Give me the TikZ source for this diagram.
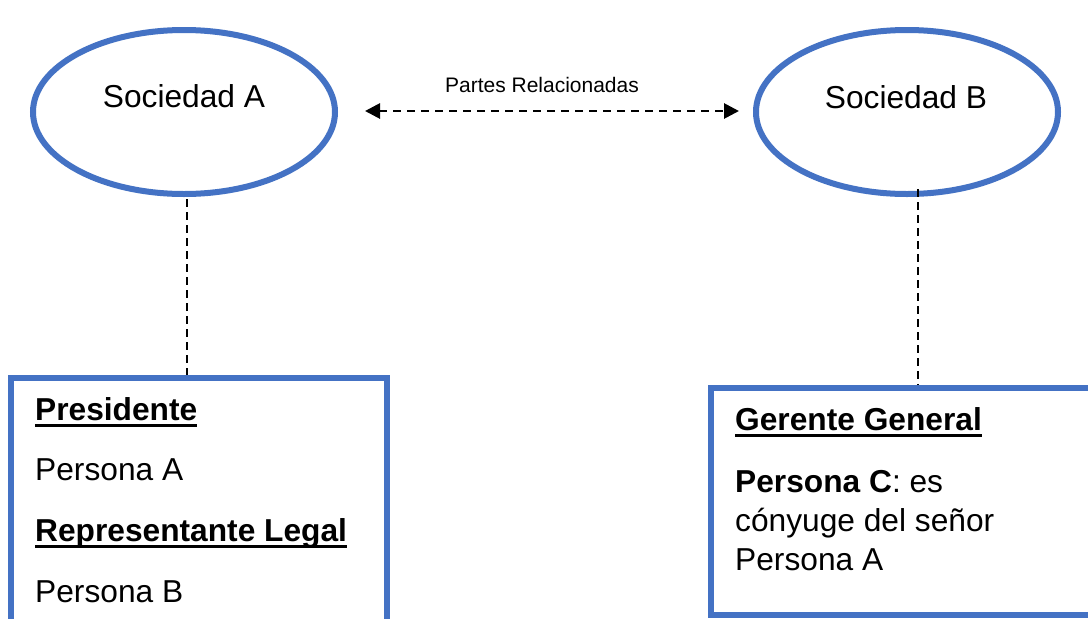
\documentclass[tikz,border=0pt]{standalone}
\usepackage{fontspec}
\setmainfont{Liberation Sans}
\usetikzlibrary{shapes.geometric,arrows.meta}
\definecolor{frameblue}{HTML}{4472C4}
% bold heading with a thick rule a little under the baseline
\newcommand\headul[1]{\sbox0{\bfseries #1}\rlap{\rule[-7pt]{\wd0}{3pt}}\usebox0}
\begin{document}
\begin{tikzpicture}[x=1pt,y=-1pt,
  company/.style={draw=frameblue,line width=6pt,ellipse,minimum width=302pt,minimum height=164pt,inner sep=0pt},
  rolebox/.style={draw=frameblue,line width=6pt,rectangle,inner sep=0pt},
  bigtext/.style={font=\fontsize{31.7}{38}\selectfont,inner sep=0pt},
  linetext/.style={bigtext,anchor=base west},
  link/.style={line width=2pt,dash pattern=on 8pt off 5pt},
  rel/.style={line width=2.8pt,dash pattern=on 8pt off 6pt,{Triangle[length=15pt,width=15pt]}-{Triangle[length=15pt,width=15pt]}}]
\clip (0,0) rectangle (1088,619);
\fill[white] (0,0) rectangle (1088,619);

% companies
\node[company] (sa) at (184,112) {};
\node[company] (sb) at (907,112) {};
\node[bigtext,anchor=base] (sat) at (184,107) {Sociedad A};
\node[bigtext,anchor=base] (sbt) at (906,108) {Sociedad B};

% relation between the two companies
\node[font=\fontsize{21}{25}\selectfont,inner sep=0pt,anchor=base] (rl) at (542,92) {Partes Relacionadas};
\draw[rel] ([xshift=27pt,yshift=1pt]sa.east) -- ([xshift=-14pt,yshift=1pt]sb.west);

% officer boxes
\node[rolebox,minimum width=376pt,minimum height=282pt] (pa) at (199,519) {};
\node[rolebox,minimum width=409pt,minimum height=227pt] (pb) at (915.5,501.5) {};

% connectors from each company to its officers
\draw[link] ([xshift=3pt,yshift=-2pt]sa.south) -- ([xshift=3pt]sa.south |- pa.north);
\draw[link] ([xshift=11pt,yshift=8pt]sb.south) -- ([xshift=11pt]sb.south |- pb.north);

% officers of Sociedad A
\node[linetext] (a1) at (35,420) {\headul{Presidente}};
\node[linetext] (a2) at (35,480) {Persona A};
\node[linetext] (a3) at (35,541) {\headul{Representante Legal}};
\node[linetext] (a4) at (35,602) {Persona B};

% officers of Sociedad B
\node[linetext] (b1) at (735,430) {\headul{Gerente General}};
\node[linetext] (b2) at (735,492) {\textbf{Persona C}: es};
\node[linetext] (b3) at (735,531) {cónyuge del señor};
\node[linetext] (b4) at (735,570) {Persona A};
\end{tikzpicture}
\end{document}
